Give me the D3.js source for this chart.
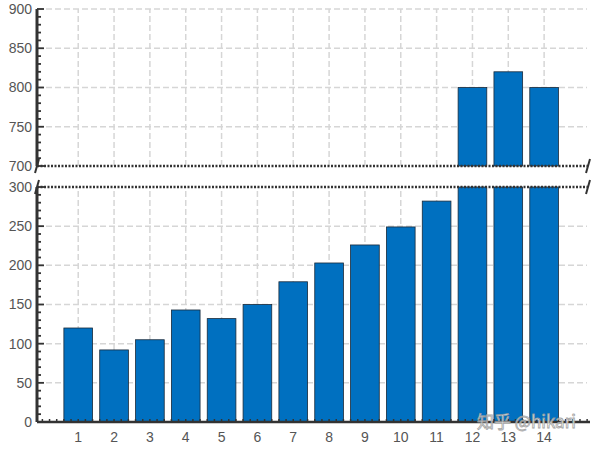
<!DOCTYPE html>
<html>
<head>
<meta charset="utf-8">
<script src="https://cdn.jsdelivr.net/npm/d3@7"></script>
<style>
  body { margin: 0; background: #fff; }
  text { font-family: "Liberation Sans", Arial, sans-serif; }
</style>
</head>
<body>
<svg class="chart" width="600" height="450"></svg>
<script>
// data
const categories = [1, 2, 3, 4, 5, 6, 7, 8, 9, 10, 11, 12, 13, 14];
const values = [120, 92, 105, 143, 132, 150, 179, 203, 226, 249, 282, 800, 820, 800];
const topTicks = [700, 750, 800, 850, 900];
const bottomTicks = [0, 50, 100, 150, 200, 250, 300];

const svg = d3.select(".chart");

const left = 37, right = 590;
const x = d3.scaleLinear().domain([-0.15, 15.28]).range([left, right]);
const yTop = d3.scaleLinear().domain([700, 900]).range([166, 9]); // 上半部分
const yBot = d3.scaleLinear().domain([0, 300]).range([422, 187]); // 下半部分

const gridColor = "#d6d6d6";
const axisColor = "#333";
const barW = (x(1) - x(0)) * 0.8;

const bars = categories.map((c, i) => ({ c: c, v: values[i] }));

// 网格线
function grid(y, ticks) {
  const g = svg.append("g");
  g.selectAll(".hg")
    .data(ticks)
    .enter().append("line")
    .attr("x1", left).attr("x2", 587)
    .attr("y1", d => y(d)).attr("y2", d => y(d))
    .style("stroke", gridColor).style("stroke-width", 1.5)
    .style("stroke-dasharray", "6,3");
  g.selectAll(".vg")
    .data(categories)
    .enter().append("line")
    .attr("x1", d => x(d)).attr("x2", d => x(d))
    .attr("y1", y.range()[0]).attr("y2", y.range()[1])
    .style("stroke", gridColor).style("stroke-width", 1.5)
    .style("stroke-dasharray", "6,3");
}
grid(yTop, topTicks.slice(1));
grid(yBot, bottomTicks.slice(1, -1));

// 柱子 - 下半部分（超过300的截断）
svg.append("g").selectAll("rect")
  .data(bars)
  .enter().append("rect")
  .attr("x", d => x(d.c) - barW / 2)
  .attr("width", barW)
  .attr("y", d => yBot(Math.min(d.v, 300)))
  .attr("height", d => yBot(0) - yBot(Math.min(d.v, 300)))
  .style("fill", "#0070c0")
  .style("stroke", "#1a2a3a").style("stroke-width", 0.8);

// 柱子 - 上半部分
svg.append("g").selectAll("rect")
  .data(bars.filter(d => d.v > 700))
  .enter().append("rect")
  .attr("x", d => x(d.c) - barW / 2)
  .attr("width", barW)
  .attr("y", d => yTop(d.v))
  .attr("height", d => yTop(700) - yTop(d.v))
  .style("fill", "#0070c0")
  .style("stroke", "#1a2a3a").style("stroke-width", 0.8);

// 断轴虚线
[yTop(700), yBot(300)].forEach(yy => {
  svg.append("line")
    .attr("x1", left).attr("x2", right - 2)
    .attr("y1", yy).attr("y2", yy)
    .style("stroke", axisColor).style("stroke-width", 2.5)
    .style("stroke-dasharray", "2,1.5");
  // 斜线
  [left, right - 2].forEach(xx => {
    svg.append("line")
      .attr("x1", xx - 2).attr("x2", xx + 2)
      .attr("y1", yy + 7).attr("y2", yy - 7)
      .style("stroke", axisColor).style("stroke-width", 2);
  });
});

// y轴
function yAxis(y, ticks) {
  const [lo, hi] = y.domain();
  const minor = d3.range(lo, hi + 0.1, 10);
  const g = svg.append("g").attr("transform", `translate(${left},0)`);
  g.append("line")
    .attr("y1", y.range()[0]).attr("y2", y.range()[1])
    .style("stroke", axisColor).style("stroke-width", 3);
  g.selectAll(".minor")
    .data(minor)
    .enter().append("line")
    .attr("x1", 0).attr("x2", d => ticks.includes(d) ? 7 : 4)
    .attr("y1", d => y(d)).attr("y2", d => y(d))
    .style("stroke", axisColor).style("stroke-width", 1.8);
  g.selectAll("text")
    .data(ticks)
    .enter().append("text")
    .attr("x", -5).attr("y", d => y(d))
    .attr("dy", "0.35em")
    .style("text-anchor", "end")
    .style("font-size", "14px")
    .style("fill", "#555")
    .text(d => d);
}
yAxis(yTop, topTicks);
yAxis(yBot, bottomTicks);

// x轴
const xg = svg.append("g");
xg.append("line")
  .attr("x1", left).attr("x2", right)
  .attr("y1", yBot(0)).attr("y2", yBot(0))
  .style("stroke", axisColor).style("stroke-width", 2.5);
xg.selectAll(".xminor")
  .data(d3.range(0, 15.21, 0.2))
  .enter().append("line")
  .attr("x1", d => x(d)).attr("x2", d => x(d))
  .attr("y1", yBot(0)).attr("y2", yBot(0) - 3)
  .style("stroke", axisColor).style("stroke-width", 1.5);
xg.selectAll("text")
  .data(categories)
  .enter().append("text")
  .attr("x", d => x(d)).attr("y", 442)
  .style("text-anchor", "middle")
  .style("font-size", "14px")
  .style("fill", "#555")
  .text(d => d);

// 水印
svg.append("text")
  .attr("x", 477).attr("y", 428)
  .style("font-family", "'Noto Sans CJK SC', sans-serif")
  .style("font-size", "17px")
  .style("fill", "#fff")
  .style("stroke", "#9a9a9a").style("stroke-width", 0.8)
  .style("opacity", 0.9)
  .text("知乎 @hikari");
</script>
</body>
</html>
